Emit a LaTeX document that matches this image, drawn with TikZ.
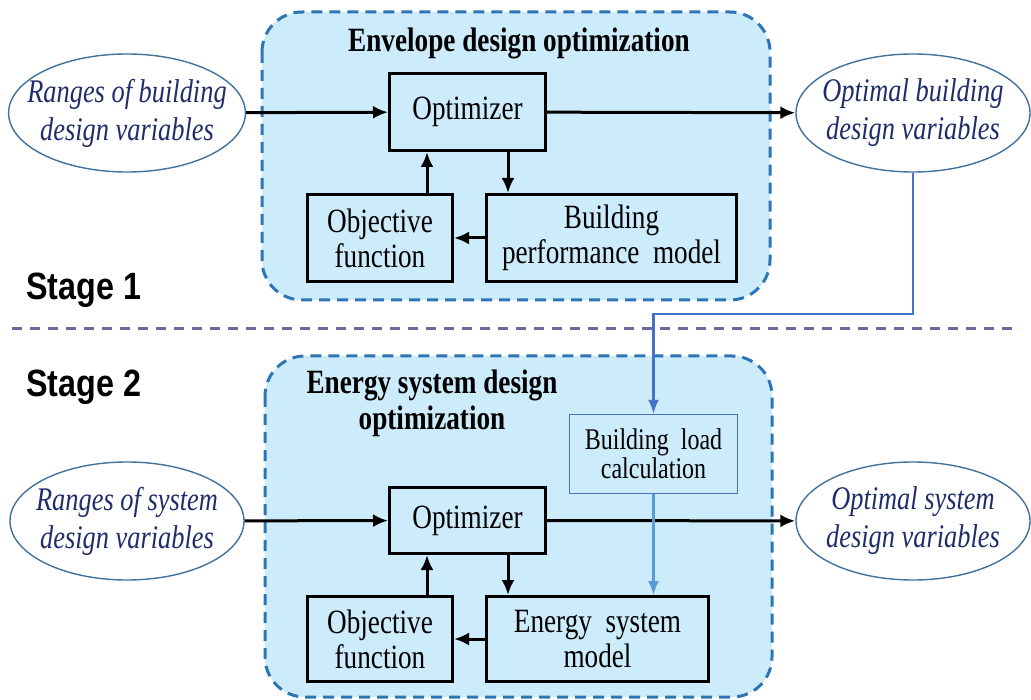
\documentclass[tikz,border=0pt]{standalone}
\usepackage{fontspec}
\setmainfont[FakeStretch=0.8]{Liberation Serif}
\newfontfamily\stagefont[FakeStretch=0.85]{Liberation Sans}
\usetikzlibrary{shapes.geometric,arrows.meta}
\definecolor{panelblue}{HTML}{CCEBFB}
\definecolor{dashblue}{HTML}{2E75B6}
\definecolor{ellline}{HTML}{41719C}
\definecolor{elltext}{HTML}{1F2D6B}
\definecolor{linkblue}{HTML}{4472C4}
\definecolor{loadblue}{HTML}{5B9BD5}
\definecolor{divider}{HTML}{6A6A9C}

\begin{document}
\begin{tikzpicture}[x=1pt,y=-1pt,
	blk/.style={draw,line width=3pt,fill=panelblue,align=center,inner sep=0pt,font=\fontsize{34}{35}\selectfont},
	oval/.style={ellipse,draw=ellline,line width=1.4pt,fill=white,minimum width=234pt,minimum height=118pt,inner xsep=-16pt,inner ysep=0pt,align=center,text=elltext,font=\fontsize{33}{38}\selectfont\itshape},
	arr/.style={line width=3pt,-{Latex[length=15pt,width=13pt]}},
	link/.style={line width=2.3pt,-{Latex[length=14pt,width=11pt]}},
	panel/.style={draw=dashblue,fill=panelblue,line width=3pt,dash pattern=on 11pt off 7pt,rounded corners=40pt},
	stagelbl/.style={anchor=base west,inner sep=0pt,font=\stagefont\bfseries\fontsize{38}{40}\selectfont},
	ttl/.style={align=center,inner sep=0pt,font=\fontsize{34}{36}\selectfont\bfseries}]
			\useasboundingbox (0,0) rectangle (1031,700);
			\draw[panel](262,12) rectangle (770,300);
			\draw[panel](265,356) rectangle (772,697);
			\draw[divider,line width=3pt,dash pattern=on 10pt off 8pt](12,329)--(1020,329);
			
			\node[stagelbl] (stage1) at (26,300) {Stage 1};
			\node[stagelbl] (stage2) at (26,397) {Stage 2};
			\node[ttl] (env) at (519,43) {Envelope design optimization};
			\node[ttl] (esd) at (432,403) {Energy system design\\optimization};
			
			\node[oval] (rng1) at (127,113) {Ranges of building\\design variables};
			\node[oval] (out1) at (913,113) {Optimal building\\design variables};
			\node[blk,minimum width=156pt,minimum height=77pt] (opt1) at (467.5,112) {Optimizer};
			\node[blk,minimum width=145pt,minimum height=87pt] (obj1) at (380,238) {Objective\\function};
			\node[blk,minimum width=250pt,minimum height=87pt] (bpm) at (611.5,238) {Building\\performance\ \ model};
			
			\node[oval] (rng2) at (127,521) {Ranges of system\\design variables};
			\node[oval] (out2) at (913,521) {Optimal system\\design variables};
			\node[blk,minimum width=156pt,minimum height=66pt] (opt2) at (467.5,520.5) {Optimizer};
			\node[blk,minimum width=145pt,minimum height=85pt] (obj2) at (380,639) {Objective\\function};
			\node[blk,minimum width=222pt,minimum height=85pt] (esm) at (597.5,639) {Energy\ \ system\\model};
			\node[blk,draw=linkblue,line width=1.4pt,minimum width=168pt,minimum height=79pt,font=\fontsize{30}{29}\selectfont] (load) at (653.5,454) {Building\ \ load\\calculation};
			
			\draw[arr](rng1)--(opt1);
			\draw[arr](opt1)--(out1);
			\draw[arr]([xshift=47pt]obj1.north)--([xshift=47pt]obj1.north |- opt1.south);
			\draw[arr]([xshift=40.5pt]opt1.south)--([xshift=40.5pt]opt1.south |- bpm.north);
			\draw[arr](bpm)--(obj1);
			
			\draw[arr](rng2)--(opt2);
			\draw[arr](opt2)--(out2);
			\draw[arr]([xshift=47pt]obj2.north)--([xshift=47pt]obj2.north |- opt2.south);
			\draw[arr]([xshift=40.5pt]opt2.south)--([xshift=40.5pt]opt2.south |- esm.north);
			\draw[arr](esm)--(obj2);
			
			\coordinate (bend) at (653.5,314);
			\draw[link,linkblue](out1.south)|-(bend)--(load.north);
			\draw[link,loadblue](load.south)--(load.south |- esm.north);
\end{tikzpicture}
\end{document}
